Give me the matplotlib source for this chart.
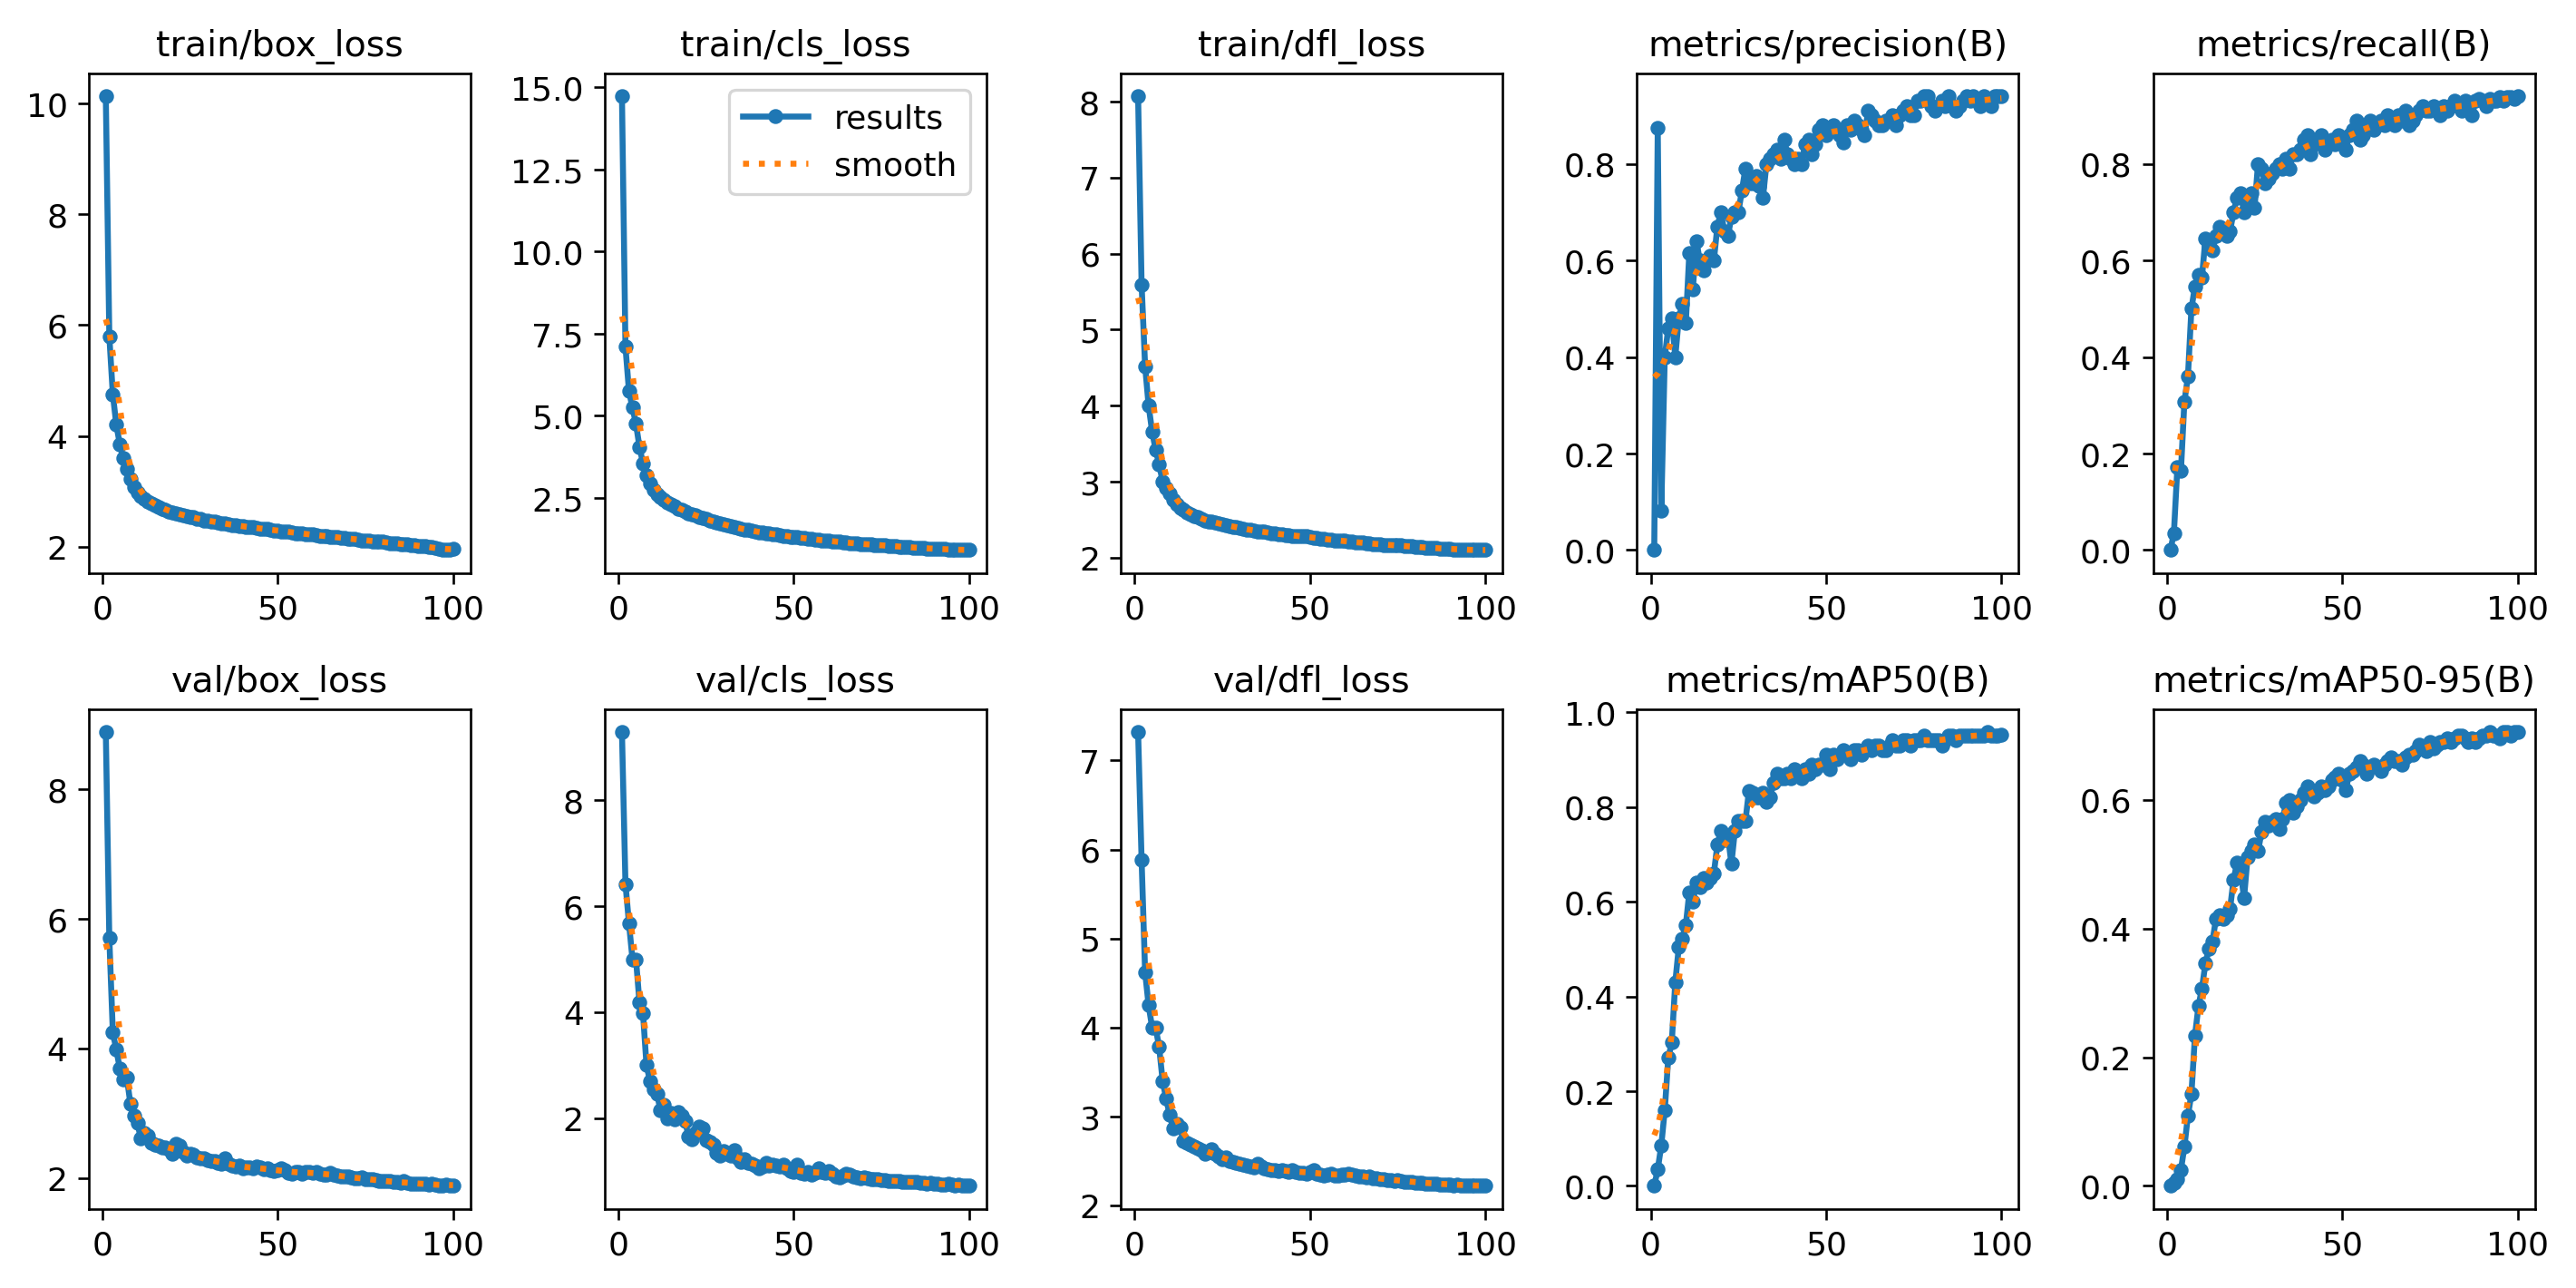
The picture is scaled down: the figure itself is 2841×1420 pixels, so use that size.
import numpy as np
import matplotlib
matplotlib.use("Agg")
import matplotlib.pyplot as plt

# epochs 1..100
epochs = list(range(1, 101))

# values
train_box_loss = [
    10.13, 5.80, 4.75, 4.20, 3.85, 3.60, 3.40, 3.22, 3.08, 2.98,
    2.92, 2.87, 2.82, 2.78, 2.75, 2.72, 2.69, 2.67, 2.64, 2.62,
    2.60, 2.59, 2.57, 2.55, 2.54, 2.53, 2.51, 2.50, 2.48, 2.47,
    2.46, 2.45, 2.44, 2.43, 2.42, 2.40, 2.39, 2.39, 2.38, 2.37,
    2.36, 2.35, 2.35, 2.34, 2.33, 2.32, 2.32, 2.31, 2.30, 2.29,
    2.28, 2.28, 2.27, 2.26, 2.25, 2.25, 2.24, 2.23, 2.22, 2.22,
    2.21, 2.20, 2.20, 2.19, 2.18, 2.18, 2.17, 2.16, 2.16, 2.15,
    2.14, 2.14, 2.13, 2.12, 2.12, 2.11, 2.10, 2.10, 2.09, 2.09,
    2.08, 2.07, 2.07, 2.06, 2.05, 2.05, 2.04, 2.03, 2.03, 2.02,
    2.01, 2.01, 2.00, 1.99, 1.98, 1.96, 1.94, 1.94, 1.95, 1.97,
]
train_cls_loss = [
    14.73, 7.10, 5.75, 5.25, 4.75, 4.05, 3.55, 3.20, 2.95, 2.75,
    2.62, 2.52, 2.44, 2.36, 2.30, 2.24, 2.18, 2.13, 2.08, 2.04,
    2.00, 1.96, 1.92, 1.88, 1.85, 1.82, 1.78, 1.75, 1.72, 1.69,
    1.66, 1.63, 1.61, 1.58, 1.56, 1.54, 1.52, 1.50, 1.48, 1.46,
    1.44, 1.43, 1.41, 1.40, 1.38, 1.37, 1.35, 1.34, 1.32, 1.31,
    1.30, 1.28, 1.27, 1.26, 1.25, 1.23, 1.22, 1.21, 1.20, 1.19,
    1.18, 1.17, 1.16, 1.15, 1.14, 1.13, 1.12, 1.11, 1.10, 1.09,
    1.09, 1.08, 1.07, 1.06, 1.06, 1.05, 1.04, 1.03, 1.03, 1.02,
    1.01, 1.00, 1.00, 0.99, 0.98, 0.98, 0.97, 0.96, 0.96, 0.95,
    0.95, 0.94, 0.94, 0.93, 0.93, 0.92, 0.92, 0.91, 0.91, 0.92,
]
train_dfl_loss = [
    8.07, 5.59, 4.52, 4.00, 3.66, 3.42, 3.23, 3.00, 2.92, 2.84,
    2.76, 2.70, 2.66, 2.63, 2.60, 2.57, 2.55, 2.53, 2.51, 2.49,
    2.48, 2.47, 2.46, 2.45, 2.44, 2.43, 2.42, 2.41, 2.40, 2.39,
    2.38, 2.37, 2.37, 2.36, 2.35, 2.34, 2.34, 2.33, 2.32, 2.32,
    2.31, 2.31, 2.30, 2.30, 2.29, 2.29, 2.28, 2.28, 2.28, 2.27,
    2.26, 2.26, 2.25, 2.25, 2.24, 2.24, 2.23, 2.23, 2.22, 2.22,
    2.21, 2.21, 2.20, 2.20, 2.20, 2.19, 2.19, 2.18, 2.18, 2.18,
    2.17, 2.17, 2.17, 2.16, 2.16, 2.16, 2.15, 2.15, 2.15, 2.14,
    2.14, 2.14, 2.13, 2.13, 2.13, 2.13, 2.12, 2.12, 2.12, 2.12,
    2.11, 2.11, 2.11, 2.11, 2.10, 2.10, 2.10, 2.10, 2.10, 2.10,
]
precision = [
    0.000, 0.874, 0.081, 0.400, 0.460, 0.480, 0.400, 0.480, 0.510, 0.470,
    0.615, 0.540, 0.640, 0.600, 0.580, 0.600, 0.610, 0.600, 0.670, 0.700,
    0.660, 0.650, 0.690, 0.700, 0.700, 0.745, 0.790, 0.760, 0.760, 0.775,
    0.755, 0.730, 0.800, 0.810, 0.820, 0.830, 0.810, 0.850, 0.820, 0.810,
    0.800, 0.810, 0.800, 0.840, 0.850, 0.820, 0.840, 0.870, 0.880, 0.860,
    0.870, 0.880, 0.870, 0.860, 0.845, 0.880, 0.870, 0.890, 0.880, 0.870,
    0.860, 0.910, 0.900, 0.890, 0.880, 0.880, 0.890, 0.890, 0.900, 0.880,
    0.900, 0.910, 0.920, 0.900, 0.900, 0.930, 0.930, 0.940, 0.940, 0.920,
    0.910, 0.920, 0.930, 0.920, 0.940, 0.920, 0.910, 0.920, 0.930, 0.940,
    0.930, 0.940, 0.930, 0.920, 0.940, 0.930, 0.920, 0.940, 0.940, 0.940,
]
recall = [
    0.000, 0.035, 0.172, 0.164, 0.308, 0.359, 0.500, 0.546, 0.571, 0.565,
    0.646, 0.630, 0.620, 0.650, 0.670, 0.660, 0.650, 0.660, 0.700, 0.730,
    0.740, 0.700, 0.720, 0.740, 0.710, 0.800, 0.790, 0.760, 0.770, 0.780,
    0.790, 0.800, 0.790, 0.810, 0.790, 0.820, 0.820, 0.830, 0.850, 0.860,
    0.820, 0.840, 0.850, 0.860, 0.830, 0.840, 0.850, 0.840, 0.860, 0.850,
    0.830, 0.860, 0.870, 0.890, 0.850, 0.860, 0.880, 0.890, 0.870, 0.880,
    0.890, 0.880, 0.900, 0.890, 0.880, 0.900, 0.890, 0.910, 0.880, 0.890,
    0.900, 0.910, 0.920, 0.910, 0.910, 0.920, 0.910, 0.900, 0.920, 0.910,
    0.920, 0.930, 0.920, 0.910, 0.930, 0.920, 0.900, 0.930, 0.935, 0.930,
    0.920, 0.935, 0.930, 0.930, 0.938, 0.930, 0.938, 0.938, 0.935, 0.940,
]
val_box_loss = [
    8.88, 5.70, 4.25, 3.98, 3.69, 3.53, 3.55, 3.15, 2.96, 2.85,
    2.61, 2.70, 2.65, 2.55, 2.52, 2.50, 2.48, 2.47, 2.45, 2.38,
    2.53, 2.50, 2.40, 2.35, 2.38, 2.36, 2.32, 2.31, 2.30, 2.28,
    2.27, 2.26, 2.24, 2.22, 2.30, 2.22, 2.20, 2.18, 2.19, 2.15,
    2.16, 2.17, 2.15, 2.18, 2.16, 2.14, 2.15, 2.12, 2.11, 2.12,
    2.15, 2.12, 2.08, 2.07, 2.10, 2.09, 2.07, 2.10, 2.09, 2.08,
    2.09, 2.07, 2.05, 2.06, 2.08, 2.05, 2.04, 2.03, 2.02, 2.02,
    2.01, 2.00, 2.00, 2.01, 1.99, 1.98, 1.98, 1.97, 1.96, 1.95,
    1.95, 1.96, 1.94, 1.94, 1.93, 1.95, 1.93, 1.92, 1.92, 1.91,
    1.92, 1.91, 1.90, 1.92, 1.90, 1.88, 1.89, 1.90, 1.89, 1.89,
]
val_cls_loss = [
    9.29, 6.42, 5.68, 5.00, 5.00, 4.18, 3.98, 3.00, 2.70, 2.55,
    2.45, 2.15, 2.25, 2.00, 2.10, 1.97, 2.12, 2.05, 1.95, 1.65,
    1.60, 1.72, 1.85, 1.80, 1.58, 1.55, 1.50, 1.35, 1.30, 1.38,
    1.32, 1.30, 1.40, 1.25, 1.18, 1.22, 1.15, 1.14, 1.10, 1.06,
    1.08, 1.15, 1.10, 1.12, 1.10, 1.08, 1.12, 1.05, 1.00, 0.98,
    1.12, 0.96, 0.95, 0.98, 0.93, 0.96, 1.05, 0.98, 0.96, 1.00,
    0.95, 0.90, 0.88, 0.92, 0.95, 0.94, 0.90, 0.88, 0.86, 0.88,
    0.86, 0.85, 0.85, 0.84, 0.83, 0.83, 0.82, 0.82, 0.81, 0.81,
    0.80, 0.80, 0.79, 0.79, 0.80, 0.78, 0.78, 0.77, 0.78, 0.76,
    0.76, 0.75, 0.75, 0.76, 0.74, 0.73, 0.74, 0.73, 0.73, 0.72,
]
val_dfl_loss = [
    7.32, 5.88, 4.62, 4.25, 4.00, 4.00, 3.78, 3.40, 3.20, 3.02,
    2.87, 2.92, 2.88, 2.72, 2.70, 2.68, 2.66, 2.64, 2.62, 2.58,
    2.60, 2.63, 2.58, 2.55, 2.52, 2.54, 2.50, 2.49, 2.48, 2.47,
    2.46, 2.45, 2.44, 2.43, 2.47, 2.44, 2.42, 2.41, 2.40, 2.40,
    2.39, 2.40, 2.39, 2.38, 2.40, 2.38, 2.37, 2.37, 2.36, 2.38,
    2.40, 2.36, 2.35, 2.34, 2.35, 2.36, 2.34, 2.34, 2.35, 2.35,
    2.36, 2.35, 2.34, 2.33, 2.33, 2.32, 2.33, 2.31, 2.31, 2.30,
    2.30, 2.29, 2.29, 2.28, 2.29, 2.28, 2.27, 2.27, 2.27, 2.26,
    2.26, 2.26, 2.25, 2.25, 2.25, 2.25, 2.24, 2.24, 2.24, 2.24,
    2.23, 2.24, 2.23, 2.23, 2.23, 2.22, 2.22, 2.23, 2.22, 2.22,
]
map50 = [
    0.000, 0.035, 0.085, 0.160, 0.270, 0.303, 0.430, 0.504, 0.521, 0.550,
    0.620, 0.600, 0.640, 0.630, 0.650, 0.640, 0.650, 0.660, 0.720, 0.750,
    0.730, 0.740, 0.680, 0.750, 0.770, 0.770, 0.770, 0.834, 0.830, 0.820,
    0.820, 0.830, 0.810, 0.820, 0.850, 0.870, 0.860, 0.860, 0.870, 0.860,
    0.880, 0.870, 0.860, 0.880, 0.870, 0.890, 0.880, 0.890, 0.890, 0.910,
    0.880, 0.910, 0.900, 0.910, 0.920, 0.910, 0.900, 0.920, 0.920, 0.910,
    0.920, 0.930, 0.920, 0.930, 0.930, 0.920, 0.920, 0.930, 0.940, 0.930,
    0.930, 0.940, 0.940, 0.930, 0.940, 0.940, 0.940, 0.950, 0.940, 0.940,
    0.940, 0.940, 0.930, 0.940, 0.950, 0.950, 0.940, 0.950, 0.950, 0.950,
    0.950, 0.950, 0.950, 0.950, 0.950, 0.958, 0.950, 0.950, 0.950, 0.952,
]
map50_95 = [
    0.000, 0.005, 0.010, 0.025, 0.061, 0.109, 0.143, 0.233, 0.279, 0.307,
    0.346, 0.368, 0.380, 0.415, 0.420, 0.415, 0.420, 0.430, 0.475, 0.502,
    0.490, 0.447, 0.510, 0.520, 0.530, 0.520, 0.550, 0.565, 0.560, 0.565,
    0.570, 0.555, 0.570, 0.595, 0.600, 0.580, 0.590, 0.600, 0.610, 0.620,
    0.610, 0.605, 0.610, 0.620, 0.615, 0.620, 0.630, 0.635, 0.640, 0.630,
    0.615, 0.640, 0.645, 0.650, 0.660, 0.655, 0.640, 0.650, 0.655, 0.650,
    0.645, 0.655, 0.660, 0.665, 0.660, 0.660, 0.655, 0.665, 0.670, 0.670,
    0.675, 0.685, 0.680, 0.675, 0.690, 0.680, 0.685, 0.690, 0.690, 0.695,
    0.690, 0.695, 0.700, 0.700, 0.695, 0.690, 0.695, 0.690, 0.695, 0.700,
    0.700, 0.705, 0.700, 0.700, 0.695, 0.705, 0.705, 0.700, 0.705, 0.705,
]

titles = [
    "train/box_loss", "train/cls_loss", "train/dfl_loss",
    "metrics/precision(B)", "metrics/recall(B)",
    "val/box_loss", "val/cls_loss", "val/dfl_loss",
    "metrics/mAP50(B)", "metrics/mAP50-95(B)",
]
series = [
    train_box_loss, train_cls_loss, train_dfl_loss, precision, recall,
    val_box_loss, val_cls_loss, val_dfl_loss, map50, map50_95,
]


# gaussian smoothing, like scipy's gaussian_filter1d (reflect mode)
def gauss_smooth(y, sigma=3):
    r = int(4 * sigma + 0.5)
    k = np.exp(-0.5 * (np.arange(-r, r + 1) / sigma) ** 2)
    k /= k.sum()
    padded = np.pad(np.asarray(y, float), r, mode="symmetric")
    return np.convolve(padded, k, mode="valid")


plt.rcParams["font.size"] = 11

fig, ax = plt.subplots(2, 5, figsize=(12, 6))
ax = ax.ravel()
for i, (t, y) in enumerate(zip(titles, series)):
    ax[i].plot(epochs, y, marker=".", label="results", linewidth=2, markersize=8)
    ax[i].plot(epochs, gauss_smooth(y), ":", label="smooth", linewidth=2)
    ax[i].set_title(t, fontsize=12)
ax[1].legend()

fig.tight_layout(pad=0.8, w_pad=1.4, h_pad=1.08)
fig.savefig("out.png", dpi=236.8)
